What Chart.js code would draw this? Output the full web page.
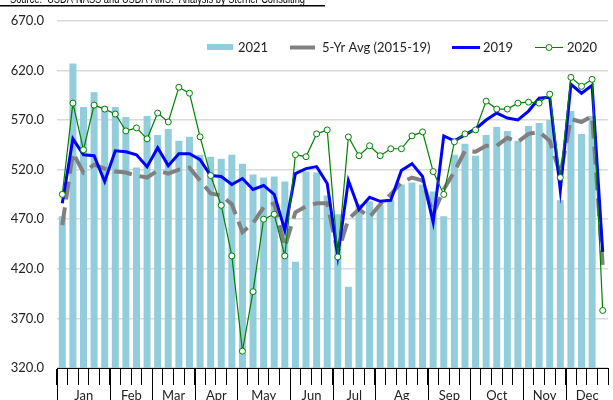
<!DOCTYPE html>
<html>
<head>
<meta charset="utf-8">
<script src="https://cdn.jsdelivr.net/npm/chart.js@4/dist/chart.umd.min.js"></script>
<style>
  html, body { margin: 0; padding: 0; background: #fff; }
  #wrap { width: 613px; height: 400px; position: relative; }
</style>
</head>
<body>
<div id="wrap"><canvas id="weeklyChart"></canvas></div>
<script>
const monthNames = ['Jan', 'Feb', 'Mar', 'Apr', 'May', 'Jun', 'Jul', 'Ag', 'Sep', 'Oct', 'Nov', 'Dec'];
const monthWeeks = [5, 4, 4, 4, 5, 4, 4, 5, 4, 5, 4, 4];

const y2021 = [473, 627, 583, 598, 584, 583, 573, 522, 574, 555,
  561, 549, 553, 535, 533, 531, 535, 526, 515, 512,
  513, 508, 427, 518, 517, 494, 475, 402, 485, 488,
  484, 489, 505, 507, 505, 498, 473, 535, 546, 534,
  555, 563, 559, 549, 564, 567, 570, 489, 579, 556,
  574, null];
const avg5yr = [464, 537, 517, 525, 521, 518, 517, 514, 512, 519,
  516, 520, 522, 509, 496, 494, 485, 457, 466, 482,
  486, 442, 477, 483, 486, 486, 436, 470, 480, 472,
  485, 495, 507, 512, 509, 475, 500, 518, 539, 538,
  544, 544, 552, 548, 556, 558, 549, 515, 571, 568,
  574, 424];
const y2019 = [486, 551, 535, 534, 508, 539, 538, 535, 523, 542,
  524, 536, 536, 530, 514, 513, 505, 511, 500, 504,
  495, 459, 516, 521, 523, 506, 433, 509, 480, 492,
  488, 489, 519, 526, 513, 467, 554, 549, 555, 561,
  570, 577, 572, 570, 579, 592, 593, 499, 606, 597,
  605, 437];
const y2020 = [495, 587, 540, 585, 581, 576, 559, 562, 551, 577,
  568, 603, 597, 553, 514, 484, 433, 337, 397, 470,
  475, 433, 535, 533, 556, 560, 432, 553, 534, 544,
  534, 541, 541, 554, 558, 518, 495, 548, 556, 560,
  589, 581, 581, 587, 588, 587, 596, 512, 613, 604,
  611, 378];

const yMin = 320, yMax = 670, yStep = 50;
const sourceNote = 'Source:  USDA-NASS and USDA-AMS.  Analysis by Sterner Consulting';

// one category per week, named by month
const weekLabels = [];
monthWeeks.forEach((n, m) => { for (let i = 0; i < n; i++) weekLabels.push(monthNames[m] + ' ' + (i + 1)); });

const FONT = 'Lato, sans-serif';

const extras = {
  id: 'extras',
  afterDraw(chart) {
    const { ctx, chartArea, scales: { x } } = chart;
    const half = (x.getPixelForValue(1) - x.getPixelForValue(0)) / 2;
    ctx.save();

    // month dividers + labels
    ctx.strokeStyle = '#000';
    ctx.lineWidth = 1;
    ctx.fillStyle = '#222';
    ctx.font = '13px ' + FONT;
    ctx.textAlign = 'center';
    ctx.textBaseline = 'middle';
    let start = 0;
    monthWeeks.forEach((n, m) => {
      const x0 = Math.round(x.getPixelForValue(start) - half) + 0.5;
      const x1 = x.getPixelForValue(start + n - 1) + half;
      ctx.beginPath();
      ctx.moveTo(x0, chartArea.bottom);
      ctx.lineTo(x0, 400);
      ctx.stroke();
      ctx.fillText(monthNames[m], (x0 + x1) / 2, 396);
      start += n;
    });

    // source note, cut at the top edge
    ctx.save();
    ctx.font = '12px "Liberation Sans", sans-serif';
    ctx.textAlign = 'left';
    ctx.textBaseline = 'alphabetic';
    const w = ctx.measureText(sourceNote).width;
    ctx.translate(10, 2.5);
    ctx.scale(295 / w, 1);
    ctx.fillStyle = '#000';
    ctx.fillText(sourceNote, 0, 0);
    ctx.restore();
    ctx.fillStyle = '#000';
    ctx.fillRect(0, 5, 325, 1.5);

    // legend
    const ds = chart.data.datasets;
    const ly = 47.5;
    ctx.font = '13px ' + FONT;
    ctx.textAlign = 'left';
    ctx.textBaseline = 'middle';
    ctx.fillStyle = '#222';

    ctx.fillStyle = ds[0].backgroundColor;
    ctx.fillRect(207, 44, 26, 6);
    ctx.fillStyle = '#222';
    ctx.fillText(ds[0].label, 238, ly);

    ctx.strokeStyle = ds[1].borderColor;
    ctx.lineWidth = 4;
    ctx.beginPath(); ctx.moveTo(290, ly); ctx.lineTo(315, ly); ctx.stroke();
    ctx.fillText(ds[1].label, 322, ly);

    ctx.strokeStyle = ds[2].borderColor;
    ctx.lineWidth = 3;
    ctx.beginPath(); ctx.moveTo(452, ly); ctx.lineTo(480, ly); ctx.stroke();
    ctx.fillText(ds[2].label, 483, ly);

    ctx.strokeStyle = ds[3].borderColor;
    ctx.lineWidth = 1;
    ctx.beginPath(); ctx.moveTo(535, ly); ctx.lineTo(563, ly); ctx.stroke();
    ctx.beginPath(); ctx.arc(549, ly, 3, 0, Math.PI * 2);
    ctx.fillStyle = '#fff'; ctx.fill(); ctx.stroke();
    ctx.fillStyle = '#222';
    ctx.fillText(ds[3].label, 567, ly);

    ctx.restore();
  }
};

const ctx = document.getElementById('weeklyChart').getContext('2d');
new Chart(ctx, {
  data: {
    labels: weekLabels,
    datasets: [
      {
        type: 'bar',
        label: '2021',
        data: y2021,
        backgroundColor: '#92CDDC',
        categoryPercentage: 1,
        barPercentage: 0.66,
        order: 4
      },
      {
        type: 'line',
        label: '5-Yr Avg (2015-19)',
        data: avg5yr,
        borderColor: '#808080',
        borderWidth: 4,
        borderDash: [18, 8],
        pointRadius: 0,
        tension: 0,
        order: 3
      },
      {
        type: 'line',
        label: '2019',
        data: y2019,
        borderColor: '#0000FF',
        borderWidth: 3,
        pointRadius: 0,
        tension: 0,
        order: 2
      },
      {
        type: 'line',
        label: '2020',
        data: y2020,
        borderColor: '#008000',
        borderWidth: 1.2,
        pointRadius: 3,
        pointBorderWidth: 1,
        pointBackgroundColor: '#fff',
        pointBorderColor: '#008000',
        tension: 0,
        order: 1
      }
    ]
  },
  options: {
    responsive: true,
    maintainAspectRatio: false,
    animation: false,
    devicePixelRatio: 1,
    layout: { padding: { top: 18, right: 1, bottom: 0, left: 0 } },
    scales: {
      x: {
        type: 'category',
        offset: true,
        grid: {
          offset: true,
          drawOnChartArea: false,
          drawTicks: true,
          tickLength: 17,
          tickColor: '#000',
          tickWidth: 1
        },
        border: { display: true, color: '#000', width: 1 },
        ticks: { display: false },
        afterFit(s) { s.height = 32; }
      },
      y: {
        min: yMin,
        max: yMax,
        ticks: {
          stepSize: yStep,
          callback: v => v.toFixed(1),
          color: '#222',
          font: { family: FONT, size: 13 },
          padding: 13
        },
        grid: { color: '#d9d9d9', lineWidth: 1.5, drawTicks: false },
        border: { display: false },
        afterFit(s) { s.width = 57; }
      }
    },
    plugins: {
      legend: { display: false },
      tooltip: { enabled: false }
    }
  },
  plugins: [extras]
});
</script>
</body>
</html>
